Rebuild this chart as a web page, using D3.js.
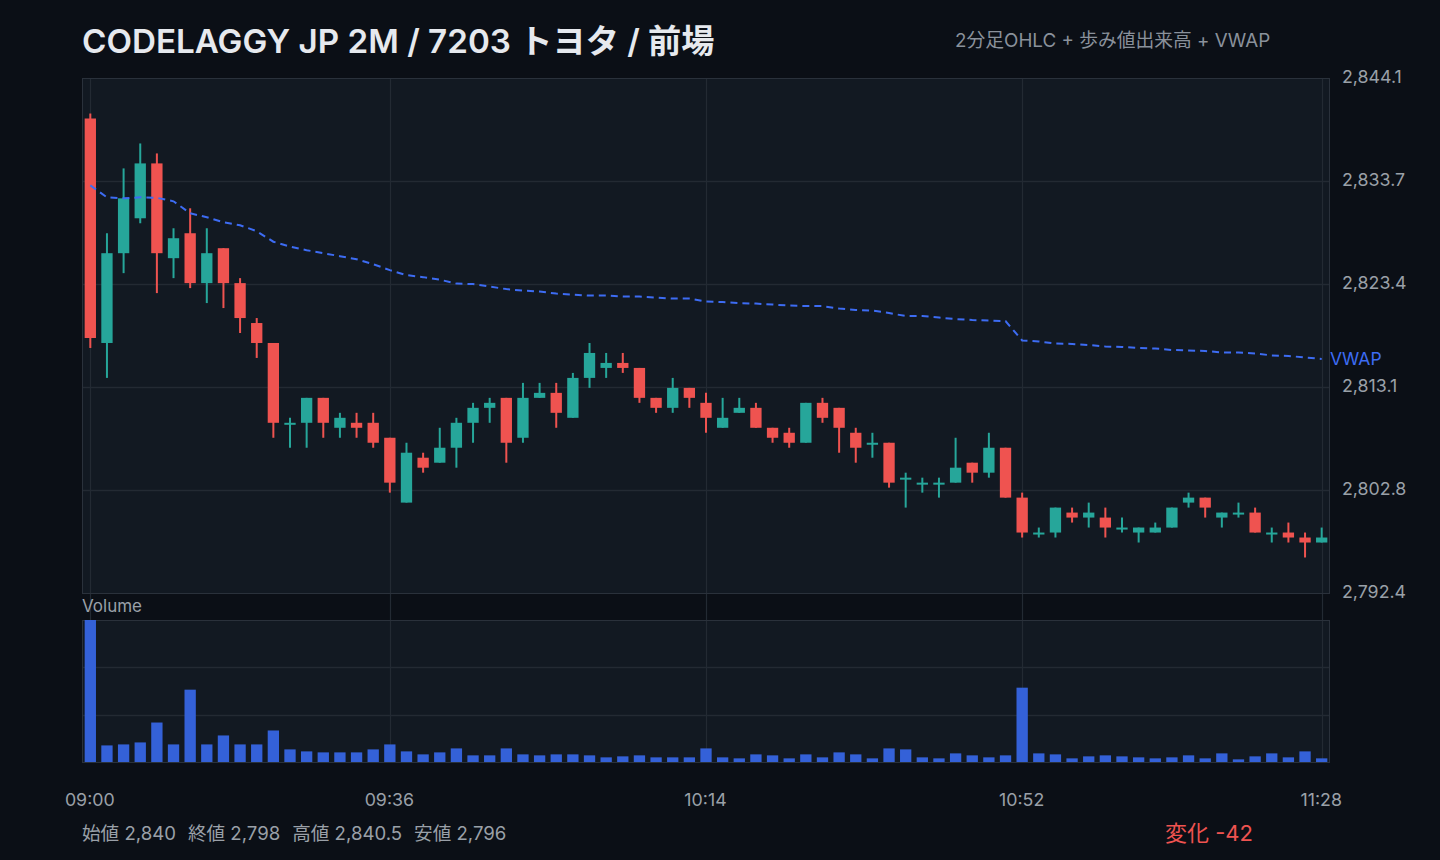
<!DOCTYPE html>
<html><head><meta charset="utf-8">
<script src="https://cdn.jsdelivr.net/npm/d3@7"></script>
<style>html,body{margin:0;background:#0b0f16;overflow:hidden}svg{display:block}</style>
</head><body>
<svg id="c" width="1440" height="860"></svg>
<script>
const times = ["09:00","09:02","09:04","09:06","09:08","09:10","09:12","09:14","09:16","09:18",
"09:20","09:22","09:24","09:26","09:28","09:30","09:32","09:34","09:36","09:38",
"09:40","09:42","09:44","09:46","09:48","09:50","09:52","09:54","09:56","09:58",
"10:00","10:02","10:04","10:06","10:08","10:10","10:12","10:14","10:16","10:18",
"10:20","10:22","10:24","10:26","10:28","10:30","10:32","10:34","10:36","10:38",
"10:40","10:42","10:44","10:46","10:48","10:50","10:52","10:54","10:56","10:58",
"11:00","11:02","11:04","11:06","11:08","11:10","11:12","11:14","11:16","11:18",
"11:20","11:22","11:24","11:26","11:28"];
const open = [2840,2817.5,2826.5,2830,2835.5,2826,2828.5,2823.5,2827,2823.5,
2819.5,2817.5,2809.5,2809.5,2812,2809,2809.5,2809.5,2808,2801.5,
2806,2805.5,2807,2809.5,2811,2812,2808,2812,2812.5,2810,
2814,2815,2815.5,2815,2812,2811,2813,2811.5,2809,2810.5,
2811,2809,2808.5,2807.5,2811.5,2811,2808.5,2807.5,2807.5,2804,
2803.5,2803.5,2803.5,2805.5,2804.5,2807,2802,2798.5,2798.5,2800.5,
2800,2800,2799,2798.5,2798.5,2799,2801.5,2802,2800,2800.5,
2800.5,2798.5,2798.5,2798,2797.5];
const high = [2840.5,2828.5,2835,2837.5,2836.5,2829,2831,2829,2827,2824,
2820,2817.5,2810,2812,2812,2810.5,2810.5,2810.5,2808,2807.5,
2806.5,2809,2810,2811.5,2812,2812,2813.5,2813.5,2813.5,2814.5,
2817.5,2816.5,2816.5,2815,2812,2814,2813,2812.5,2812,2812,
2811.5,2809,2809,2811.5,2812,2811,2809,2808.5,2807.5,2804.5,
2804,2804,2808,2805.5,2808.5,2807,2802.5,2799,2801,2801,
2801.5,2801,2800,2799,2799.5,2801,2802.5,2802,2800.5,2801.5,
2801,2799,2799.5,2798.5,2799];
const low = [2817,2814,2824.5,2829.5,2822.5,2824,2823,2821.5,2821,2818.5,
2816,2808,2807,2807,2808,2808,2808,2807,2802.5,2801.5,
2804.5,2805.5,2805,2807.5,2809.5,2805.5,2807.5,2812,2809,2810,
2813,2814,2814.5,2811.5,2810.5,2810.5,2811,2808.5,2809,2810.5,
2809,2807.5,2807,2807.5,2809.5,2806.5,2805.5,2806,2803,2801,
2802.5,2802,2803.5,2803.5,2804,2802,2798,2798,2798,2799.5,
2799,2798,2798.5,2797.5,2798.5,2799,2801,2800,2799,2800,
2798.5,2797.5,2797.5,2796,2797.5];
const close = [2818,2826.5,2832,2835.5,2826.5,2828,2823.5,2826.5,2823.5,2820,
2817.5,2809.5,2809.5,2812,2809.5,2810,2809,2807.5,2803.5,2806.5,
2805,2807,2809.5,2811,2811.5,2807.5,2812,2812.5,2810.5,2814,
2816.5,2815.5,2815,2812,2811,2813,2812,2810,2810,2811,
2809,2808,2807.5,2811.5,2810,2809,2807,2807.5,2803.5,2804,
2803.5,2803.5,2805,2804.5,2807,2802,2798.5,2798.5,2801,2800,
2800.5,2799,2799,2799,2799,2801,2802,2801,2800.5,2800.5,
2798.5,2798.5,2798,2797.5,2798];
const volume = [1284,150,159,177,357,159,654,159,240,159,
159,285,114,96,87,87,87,114,159,96,
69,87,123,60,60,123,69,60,69,69,
60,42,51,60,42,42,42,123,42,33,
69,60,33,69,42,87,69,33,123,114,
42,33,78,60,42,60,672,78,69,33,
51,60,51,42,33,42,60,33,78,24,
51,78,42,96,33];
const vwap = [2833.3,2832.1,2832.0,2832.1,2832.05,2831.7,2830.5,2830.1,2829.6,2829.3,
2828.7,2827.65,2827.15,2826.8,2826.5,2826.2,2825.9,2825.4,2824.8,2824.3,
2824.1,2823.85,2823.45,2823.4,2823.15,2822.9,2822.75,2822.65,2822.45,2822.35,
2822.25,2822.25,2822.15,2822.15,2822.05,2821.95,2821.95,2821.65,2821.6,2821.5,
2821.45,2821.35,2821.25,2821.2,2821.2,2820.95,2820.8,2820.75,2820.5,2820.2,
2820.2,2820.05,2819.9,2819.8,2819.75,2819.7,2817.75,2817.65,2817.45,2817.4,
2817.3,2817.15,2817.1,2817.0,2816.95,2816.8,2816.75,2816.7,2816.55,2816.55,
2816.45,2816.25,2816.2,2816.05,2815.9];
const xTickLabels = ["09:00","09:36","10:14","10:52","11:28"];
const titleText = "CODELAGGY JP 2M / 7203 トヨタ / 前場";
const subtitleText = "2分足OHLC + 歩み値出来高 + VWAP";
const statLabels = ["始値","終値","高値","安値"];
const changeLabel = "変化";

const FONT = "Inter, 'Noto Sans CJK JP', sans-serif";
const C = {bg:"#0b0f16", panel:"#121922", grid:"#232a33", border:"#2a313b", text:"#9aa0a8",
  up:"#26a69a", down:"#ef5350", vwap:"#3d6cf3", vol:"#3461d8", title:"#e6e9ee"};
const L=82, R=1330, T=78, B=593, VT=620, VB=762;

const svg = d3.select("#c");
svg.append("rect").attr("width",1440).attr("height",860).attr("fill",C.bg);

const n = times.length;
const x = d3.scaleBand().domain(times).range([L,R]).paddingInner(0.32).paddingOuter(0.16);
const cx = t => x(t) + x.bandwidth()/2;

const hi = d3.max(high), lo = d3.min(low), pad = (hi-lo)*0.08;
const y = d3.scaleLinear().domain([lo-pad, hi+pad]).range([B,T]);
const yTicks = d3.range(6).map(i => lo-pad + i*(hi-lo+2*pad)/5);
const yv = d3.scaleLinear().domain([0, d3.max(volume)]).range([VB,VT]);

// panels
svg.append("rect").attr("x",L).attr("y",T).attr("width",R-L).attr("height",B-T).attr("fill",C.panel);
svg.append("rect").attr("x",L).attr("y",VT).attr("width",R-L).attr("height",VB-VT).attr("fill",C.panel);

// horizontal grid main
svg.append("g").selectAll("line").data(yTicks.slice(1,5)).join("line")
  .attr("x1",L).attr("x2",R).attr("y1",d=>Math.round(y(d))+0.5).attr("y2",d=>Math.round(y(d))+0.5)
  .attr("stroke",C.grid).attr("stroke-width",1.5);
// volume grid
const vTicks = [1,2].map(k => d3.max(volume)*k/3);
svg.append("g").selectAll("line").data(vTicks).join("line")
  .attr("x1",L).attr("x2",R).attr("y1",d=>Math.round(yv(d))+0.5).attr("y2",d=>Math.round(yv(d))+0.5)
  .attr("stroke",C.grid).attr("stroke-width",1.5);
// vertical grid
svg.append("g").selectAll("line").data(xTickLabels).join("line")
  .attr("x1",d=>Math.round(cx(d))+0.5).attr("x2",d=>Math.round(cx(d))+0.5).attr("y1",T).attr("y2",VB)
  .attr("stroke",C.grid).attr("stroke-width",1.2);

// borders
svg.append("rect").attr("x",L+0.5).attr("y",T+0.5).attr("width",R-L-1).attr("height",B-T).attr("fill","none").attr("stroke",C.border);
svg.append("rect").attr("x",L+0.5).attr("y",VT+0.5).attr("width",R-L-1).attr("height",VB-VT).attr("fill","none").attr("stroke",C.border);

// candles
const data = times.map((t,i)=>({t,o:open[i],h:high[i],l:low[i],c:close[i],v:volume[i],w:vwap[i]}));
const g = svg.append("g");
g.selectAll("line.wick").data(data).join("line").attr("class","wick")
  .attr("x1",d=>cx(d.t)).attr("x2",d=>cx(d.t)).attr("y1",d=>y(d.h)).attr("y2",d=>y(d.l))
  .attr("stroke",d=>d.c>=d.o?C.up:C.down).attr("stroke-width",2);
g.selectAll("rect.body").data(data).join("rect").attr("class","body")
  .attr("x",d=>x(d.t)).attr("width",x.bandwidth())
  .attr("y",d=>y(Math.max(d.o,d.c)))
  .attr("height",d=>Math.max(2, Math.abs(y(d.o)-y(d.c))))
  .attr("fill",d=>d.c>=d.o?C.up:C.down);

// vwap
svg.append("path").datum(data)
  .attr("d", d3.line().x(d=>cx(d.t)).y(d=>y(d.w)))
  .attr("fill","none").attr("stroke",C.vwap).attr("stroke-width",2).attr("stroke-dasharray","7,5");
svg.append("text").attr("x",R).attr("y",y(vwap[n-1])).attr("dy","0.35em")
  .attr("fill",C.vwap).attr("font-family",FONT).attr("font-size",17.5).text("VWAP");

// volume
svg.append("g").selectAll("rect").data(data).join("rect")
  .attr("x",d=>x(d.t)).attr("width",x.bandwidth())
  .attr("y",d=>yv(d.v)).attr("height",d=>VB-yv(d.v)).attr("fill",C.vol);
svg.append("text").attr("x",L).attr("y",612).attr("fill",C.text).attr("font-family",FONT)
  .attr("font-size",17).text("Volume");

// y axis labels
const fmt = d3.format(",.1f");
svg.append("g").selectAll("text").data(yTicks).join("text")
  .attr("x",1342).attr("y",d=>y(d)-1).attr("dy","0.35em").attr("fill",C.text)
  .attr("font-family",FONT).attr("font-size",17.8).text(d=>fmt(d));

// x axis labels
svg.append("g").selectAll("text").data(xTickLabels).join("text")
  .attr("x",d=>cx(d)-0.5).attr("y",800).attr("dy","0.35em").attr("text-anchor","middle")
  .attr("fill",C.text).attr("font-family",FONT).attr("font-size",17.8).text(d=>d);

// title
svg.append("text").attr("x",L).attr("y",53).attr("fill",C.title).attr("font-family",FONT)
  .attr("font-size",33.2).attr("font-weight",600).text(titleText);
svg.append("text").attr("x",955).attr("y",47).attr("fill","#8a919b").attr("font-family",FONT)
  .attr("font-size",18.8).text(subtitleText);

// stats
const f0 = d3.format(",");
const statVals = [open[0], close[n-1], d3.max(high), d3.min(low)];
let sx = L;
statLabels.forEach((lab,i)=>{
  const t = svg.append("text").attr("x",sx).attr("y",840).attr("fill",C.text)
    .attr("font-family",FONT).attr("font-size",18.6).text(lab+" "+f0(statVals[i]));
  sx += t.node().getComputedTextLength() + 12;
});
const chg = close[n-1]-open[0];
svg.append("text").attr("x",1253).attr("y",841).attr("text-anchor","end").attr("fill",C.down)
  .attr("font-family",FONT).attr("font-size",22).text(changeLabel+" "+(chg>0?"+":"")+chg);
</script>
</body></html>
